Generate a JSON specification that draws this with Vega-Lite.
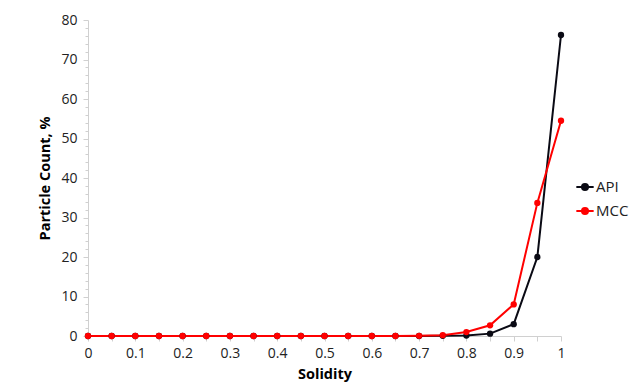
{
  "$schema": "https://vega.github.io/schema/vega-lite/v6.json",
  "width": 473,
  "height": 316,
  "autosize": {"type": "none"},
  "padding": {"left": 88, "top": 20, "right": 70, "bottom": 54},
  "background": "white",
  "config": {
    "view": {"stroke": null},
    "font": "Open Sans"
  },
  "data": {
    "values": [
      {"s": 0, "series": "API", "v": 0}, {"s": 0.05, "series": "API", "v": 0}, {"s": 0.1, "series": "API", "v": 0},
      {"s": 0.15, "series": "API", "v": 0}, {"s": 0.2, "series": "API", "v": 0}, {"s": 0.25, "series": "API", "v": 0},
      {"s": 0.3, "series": "API", "v": 0}, {"s": 0.35, "series": "API", "v": 0}, {"s": 0.4, "series": "API", "v": 0},
      {"s": 0.45, "series": "API", "v": 0}, {"s": 0.5, "series": "API", "v": 0}, {"s": 0.55, "series": "API", "v": 0},
      {"s": 0.6, "series": "API", "v": 0}, {"s": 0.65, "series": "API", "v": 0}, {"s": 0.7, "series": "API", "v": 0},
      {"s": 0.75, "series": "API", "v": 0.05}, {"s": 0.8, "series": "API", "v": 0.1}, {"s": 0.85, "series": "API", "v": 0.6},
      {"s": 0.9, "series": "API", "v": 3.0}, {"s": 0.95, "series": "API", "v": 20.0}, {"s": 1, "series": "API", "v": 76.2},
      {"s": 0, "series": "MCC", "v": 0}, {"s": 0.05, "series": "MCC", "v": 0}, {"s": 0.1, "series": "MCC", "v": 0},
      {"s": 0.15, "series": "MCC", "v": 0}, {"s": 0.2, "series": "MCC", "v": 0}, {"s": 0.25, "series": "MCC", "v": 0},
      {"s": 0.3, "series": "MCC", "v": 0}, {"s": 0.35, "series": "MCC", "v": 0}, {"s": 0.4, "series": "MCC", "v": 0},
      {"s": 0.45, "series": "MCC", "v": 0}, {"s": 0.5, "series": "MCC", "v": 0}, {"s": 0.55, "series": "MCC", "v": 0},
      {"s": 0.6, "series": "MCC", "v": 0}, {"s": 0.65, "series": "MCC", "v": 0}, {"s": 0.7, "series": "MCC", "v": 0.05},
      {"s": 0.75, "series": "MCC", "v": 0.2}, {"s": 0.8, "series": "MCC", "v": 1.0}, {"s": 0.85, "series": "MCC", "v": 2.7},
      {"s": 0.9, "series": "MCC", "v": 8.0}, {"s": 0.95, "series": "MCC", "v": 33.7}, {"s": 1, "series": "MCC", "v": 54.5}
    ]
  },
  "encoding": {
    "x": {
      "field": "s", "type": "quantitative",
      "scale": {"domain": [0, 1], "nice": false, "zero": false},
      "axis": {
        "title": "Solidity",
        "titleFont": "Open Sans", "titleFontSize": 14.5, "titleFontWeight": "bold", "titleColor": "#000",
        "titlePadding": 7,
        "values": [0, 0.05, 0.1, 0.15, 0.2, 0.25, 0.3, 0.35, 0.4, 0.45, 0.5, 0.55, 0.6, 0.65, 0.7, 0.75, 0.8, 0.85, 0.9, 0.95, 1],
        "format": "~g",
        "labelExpr": "round(datum.value*100) % 10 === 0 ? datum.label : ''",
        "labelFont": "Open Sans", "labelFontSize": 14, "labelColor": "#222", "labelPadding": 5,
        "labelFlush": false,
        "grid": false,
        "domainColor": "#d0d0d0", "domainWidth": 1,
        "tickColor": "#d0d0d0", "tickSize": 5
      }
    },
    "y": {
      "field": "v", "type": "quantitative",
      "scale": {"domain": [0, 80], "nice": false},
      "axis": {
        "title": "Particle Count, %",
        "titleFont": "Open Sans", "titleFontSize": 14.5, "titleFontWeight": "bold", "titleColor": "#000",
        "titlePadding": 8,
        "values": [0, 2, 4, 6, 8, 10, 12, 14, 16, 18, 20, 22, 24, 26, 28, 30, 32, 34, 36, 38, 40, 42, 44, 46, 48, 50, 52, 54, 56, 58, 60, 62, 64, 66, 68, 70, 72, 74, 76, 78, 80],
        "labelExpr": "datum.value % 10 === 0 ? datum.label : ''",
        "labelFont": "Open Sans", "labelFontSize": 14, "labelColor": "#222", "labelPadding": 6,
        "labelFlush": false,
        "grid": false,
        "domainColor": "#d0d0d0", "domainWidth": 1,
        "tickColor": "#d0d0d0",
        "tickSize": {"condition": {"test": "datum.value % 10 === 0", "value": 5}, "value": 3}
      }
    },
    "color": {
      "field": "series", "type": "nominal",
      "scale": {"domain": ["API", "MCC"], "range": ["#0a0a14", "#ff0000"]},
      "legend": {
        "title": null,
        "orient": "none",
        "legendX": 487,
        "legendY": 157,
        "symbolType": "M-1,0L1,0M-0.35,0A0.35,0.35 0 1,0 0.35,0A0.35,0.35 0 1,0 -0.35,0",
        "symbolSize": 300,
        "symbolStrokeWidth": 2,
        "labelFont": "Open Sans", "labelFontSize": 15, "labelColor": "#222",
        "labelOffset": 1,
        "rowPadding": 6
      }
    }
  },
  "layer": [
    {"mark": {"type": "line", "strokeWidth": 2}},
    {"mark": {"type": "point", "filled": true, "size": 40, "opacity": 1}}
  ]
}
